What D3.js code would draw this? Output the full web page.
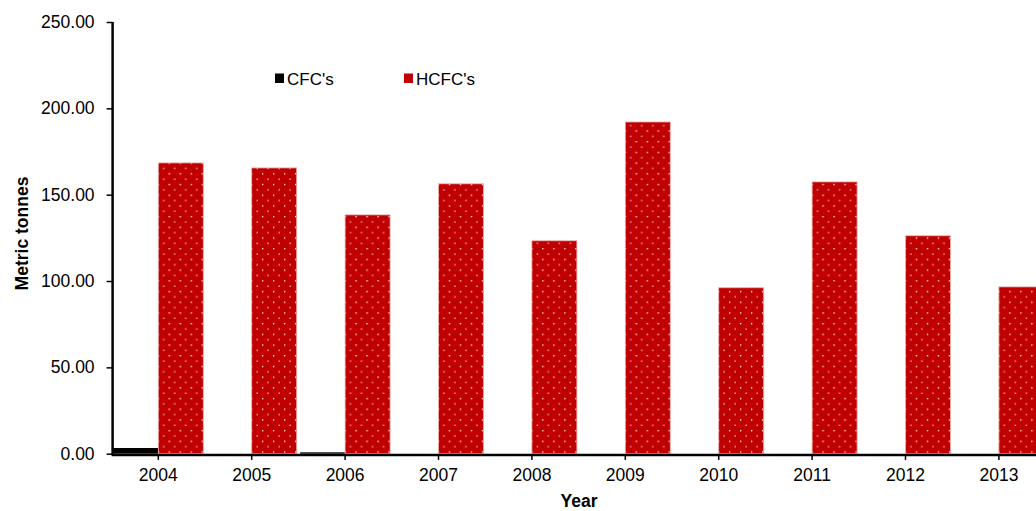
<!DOCTYPE html>
<html>
<head>
<meta charset="utf-8">
<script src="https://cdn.jsdelivr.net/npm/d3@7"></script>
<style>
  html, body { margin: 0; padding: 0; background: #fff; overflow: hidden; }
  svg { display: block; font-family: "Liberation Sans", Arial, sans-serif; }
</style>
</head>
<body>
<svg id="chart" width="1036" height="511"></svg>
<script>
const years = ["2004","2005","2006","2007","2008","2009","2010","2011","2012","2013"];
const seriesNames = ["CFC's", "HCFC's"];
const cfcValues = [3.3, 0, 0.8, 0, 0, 0, 0, 0, 0, 0];
const hcfcValues = [168.4, 165.5, 138.3, 156.3, 123.3, 192.1, 96.1, 157.4, 126.2, 96.6];
const yTicks = [0, 50, 100, 150, 200, 250];

const svg = d3.select("#chart");
const defs = svg.append("defs");
const pat = defs.append("pattern")
  .attr("id", "dots").attr("patternUnits", "userSpaceOnUse")
  .attr("width", 11).attr("height", 10.7);
pat.append("rect").attr("width", 11).attr("height", 10.7).attr("fill", "#C00000");
pat.append("rect").attr("x", 2).attr("y", 2).attr("width", 1.3).attr("height", 1.3).attr("fill", "#ffffff");
pat.append("rect").attr("x", 7.5).attr("y", 7.35).attr("width", 1.3).attr("height", 1.3).attr("fill", "#f4c8c8");

const left = 111.6, step = 93.4;
const x0 = d3.scaleBand().domain(years).range([left, left + step * years.length]).padding(0);
const x1 = d3.scaleBand().domain(seriesNames).range([0, x0.bandwidth()]).paddingInner(0).paddingOuter(0.038);
const y = d3.scaleLinear().domain([0, 250]).range([453.7, 22]);

const fills = { "CFC's": "#000000", "HCFC's": "url(#dots)" };
const data = years.map((yr, i) => ({ year: yr, vals: [
  { name: "CFC's", v: cfcValues[i] }, { name: "HCFC's", v: hcfcValues[i] } ] }));

const g = svg.append("g");
const groups = g.selectAll("g.yr").data(data).join("g")
  .attr("transform", d => `translate(${x0(d.year)},0)`);
groups.selectAll("rect").data(d => d.vals).join("rect")
  .attr("x", d => x1(d.name))
  .attr("width", x1.bandwidth())
  .attr("y", d => y(d.v))
  .attr("height", d => y(0) - y(d.v))
  .attr("fill", d => fills[d.name])
  .attr("stroke", d => d.name === "HCFC's" ? "#eab0b0" : "none")
  .attr("stroke-width", 0.8);

// Y axis
const yAxis = d3.axisLeft(y).tickValues(yTicks).tickFormat(d3.format(".2f")).tickSize(6).tickPadding(12);
const ya = svg.append("g").attr("transform", `translate(${left + 1},0)`).call(yAxis);
ya.select(".domain").attr("stroke", "#000").attr("stroke-width", 2.5).attr("d", `M0,${y(250)}V${y(0)+1}`);
ya.selectAll(".tick line").attr("stroke", "#000").attr("stroke-width", 1.5);
ya.selectAll(".tick text").attr("font-size", 17.5).attr("fill", "#000")
  .attr("font-family", "'Liberation Sans', Arial, sans-serif");

// X axis
const xAxis = d3.axisBottom(x0).tickSize(5).tickPadding(9);
const xa = svg.append("g").attr("transform", `translate(0,${y(0) + 1.2})`).call(xAxis);
xa.select(".domain").attr("stroke", "#000").attr("stroke-width", 2.5).attr("d", `M${left},0H1040`);
xa.selectAll(".tick line").attr("stroke", "#000").attr("stroke-width", 1.5);
xa.selectAll(".tick text").attr("font-size", 17.5).attr("fill", "#000")
  .attr("font-family", "'Liberation Sans', Arial, sans-serif");

// Axis titles
svg.append("text").attr("x", 579).attr("y", 507).attr("text-anchor", "middle")
  .attr("font-weight", "bold").attr("font-size", 17.5).text("Year");
svg.append("text").attr("transform", "translate(27.5,233.5) rotate(-90)").attr("text-anchor", "middle")
  .attr("font-weight", "bold").attr("font-size", 17.5).text("Metric tonnes");

// Legend
const legendX = [275, 404];
const lg = svg.append("g");
seriesNames.forEach((s, i) => {
  lg.append("rect").attr("x", legendX[i]).attr("y", 73.5).attr("width", 9).attr("height", 9.5)
    .attr("fill", i === 0 ? "#000" : "#C00000");
  lg.append("text").attr("x", legendX[i] + 12).attr("y", 84.5).attr("font-size", 17).attr("fill", "#000").text(s);
});
</script>
</body>
</html>
